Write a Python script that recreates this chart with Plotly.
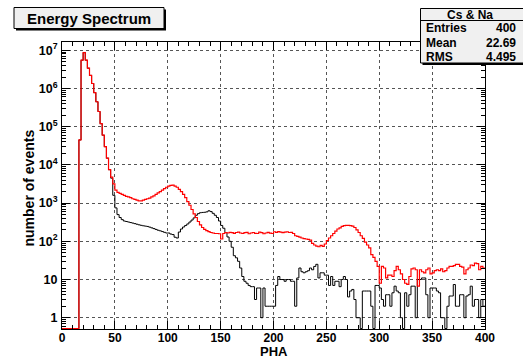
import numpy as np
import plotly.graph_objects as go

# ---------------- data (2-unit bins, 0..400) ----------------
bin_edges = list(range(0, 402, 2))

red_counts = [
    0, 0, 0, 0, 0, 0, 0, 0, 4.5e4, 5.5e6,
    8.7e6, 5.5e6, 3.4e6, 2.2e6, 1.35e6, 7.8e5, 4.5e5, 2.5e5, 1.2e5, 6e4,
    3e4, 1.5e4, 7.5e3, 4.8e3, 3.2e3, 2.2e3, 1.9e3, 1.8e3, 1.7e3, 1.6e3,
    1.5e3, 1.45e3, 1.4e3, 1.3e3, 1.25e3, 1.2e3, 1.15e3, 1.15e3, 1.2e3, 1.25e3,
    1.3e3, 1.35e3, 1.45e3, 1.55e3, 1.7e3, 1.85e3, 2.0e3, 2.2e3, 2.4e3, 2.6e3,
    2.8e3, 2.9e3, 2.95e3, 2.8e3, 2.6e3, 2.3e3, 2.0e3, 1.7e3, 1.4e3, 1.1e3,
    880, 680, 520, 420, 330, 270, 230, 205, 190, 180,
    170, 165, 160, 160, 158, 115, 160, 170, 165, 172,
    168, 162, 170, 175, 165, 160, 168, 172, 158, 165,
    170, 162, 160, 175, 168, 158, 165, 172, 163, 160,
    178, 172, 180, 175, 168, 175, 178, 170, 172, 160,
    140, 135, 128, 122, 118, 115, 112, 108, 88, 80,
    75, 72, 78, 74, 85, 105, 122, 140, 160, 185,
    210, 225, 245, 258, 262, 262, 258, 250, 230, 200,
    170, 140, 120, 95, 80, 67, 45, 38, 30, 22,
    8, 22, 20, 11, 13, 13, 12, 17, 22, 18,
    14, 10, 8, 7.5, 12, 19, 20, 18, 6.7, 18,
    16, 15, 18, 20, 14, 15, 17, 18, 17, 19,
    16, 17, 20, 22, 22, 23, 25, 25, 22, 21,
    14, 18, 20, 24, 23, 27, 26, 18, 22, 20,
]

black_counts = [
    0, 0, 0, 0, 0, 0, 0, 0, 4.5e4, 5.5e6,
    8.7e6, 5.5e6, 3.4e6, 2.2e6, 1.35e6, 7.8e5, 4.5e5, 2.5e5, 1.2e5, 6e4,
    3e4, 1.5e4, 7.5e3, 4.5e3, 1.6e3, 750, 500, 420, 370, 340,
    330, 320, 310, 300, 290, 280, 270, 262, 255, 250,
    245, 235, 225, 215, 205, 195, 188, 180, 172, 165,
    165, 155, 150, 128, 122, 175, 210, 237, 260, 285,
    320, 360, 410, 480, 530, 560, 570, 575, 590, 630,
    600, 540, 480, 420, 340, 260, 220, 170, 130, 100,
    70, 42, 37, 30, 20, 12, 9, 8, 7, 6.5,
    6.5, 3, 6, 6, 1, 6, 2, 2, 2, 2,
    2, 7, 12, 10, 10, 9, 10, 10, 9, 9,
    2, 11, 20, 16, 15, 16, 17, 20, 18, 22,
    25, 11, 15, 15, 13, 13, 7, 12, 7, 9,
    9, 6.5, 10, 12, 10, 3.5, 5, 5.5, 3, 1,
    1, 0, 5, 5, 5, 5, 2, 0, 7, 7,
    6, 3, 2, 4, 4, 2, 4.5, 6.7, 5, 4.5,
    1, 0, 4.5, 2, 4, 6.7, 6.7, 1, 10, 10,
    11, 11, 4, 1, 6, 6, 6, 5, 4.5, 1,
    1, 0, 2, 3.7, 3.7, 7.4, 2, 2, 4, 4,
    1, 3.7, 4, 6.7, 2, 3, 3, 1, 3, 2,
]

x_tick_vals = [0, 50, 100, 150, 200, 250, 300, 350, 400]
y_tick_vals = [1, 10, 1e2, 1e3, 1e4, 1e5, 1e6, 1e7]
y_tick_text = ["1", "10", "10<sup>2</sup>", "10<sup>3</sup>", "10<sup>4</sup>",
               "10<sup>5</sup>", "10<sup>6</sup>", "10<sup>7</sup>"]

hist_title = "Energy Spectrum"
stats_name = "Cs &amp; Na"
stats_rows = [("Entries", "400"), ("Mean", "22.69"), ("RMS", "4.495")]

# ---------------- layout geometry ----------------
W, H = 523, 358
ML, MR, MT, MB = 62, 38, 42, 29
PW, PH = W - ML - MR, H - MT - MB
LOG_MIN, LOG_MAX = -0.295, 7.217
floor_val = 10 ** (LOG_MIN + 0.012)   # empty bins drawn on the frame bottom


def px(xp):
    return (xp - ML) / PW


def py(yp):
    return (H - MB - yp) / PH


def step_y(counts):
    vals = [c if c > 0 else floor_val for c in counts]
    return vals + [vals[-1]]


FONT = "Liberation Sans"

fig = go.Figure()
fig.add_trace(go.Scatter(x=bin_edges, y=step_y(black_counts), mode="lines",
                         line=dict(color="black", width=1, shape="hv"),
                         hoverinfo="skip"))
fig.add_trace(go.Scatter(x=bin_edges, y=step_y(red_counts), mode="lines",
                         line=dict(color="#ff0000", width=1.2, shape="hv"),
                         hoverinfo="skip"))

axis_common = dict(
    showline=True, linecolor="black", linewidth=1, mirror="allticks",
    ticks="inside", ticklen=8, tickcolor="black", tickwidth=1,
    showgrid=True, gridcolor="#555555", griddash="dot", gridwidth=1,
    zeroline=False,
)

fig.update_layout(
    width=W, height=H,
    margin=dict(l=ML, r=MR, t=MT, b=MB, pad=0),
    paper_bgcolor="white", plot_bgcolor="white",
    showlegend=False,
    xaxis=dict(range=[0, 400], tickvals=x_tick_vals,
               minor=dict(ticks="inside", ticklen=4, dtick=10, tick0=0,
                          tickcolor="black", showgrid=False),
               ticklabelstandoff=-2,
               tickfont=dict(family=FONT, size=12, color="black", weight="bold"),
               **axis_common),
    yaxis=dict(type="log", range=[LOG_MIN, LOG_MAX],
               tickvals=y_tick_vals, ticktext=y_tick_text,
               minor=dict(ticks="inside", ticklen=4, dtick="D1",
                          tickcolor="black", showgrid=False),
               ticklabelstandoff=1,
               tickfont=dict(family=FONT, size=12.5, color="black", weight="bold"),
               **axis_common),
)

shapes = []
annots = []

# title box with shadow
tb = (14, 7.5, 164, 28.5)
shapes.append(dict(type="rect", xref="paper", yref="paper",
                   x0=px(tb[0] + 2), x1=px(tb[2] + 2), y0=py(tb[3] + 2), y1=py(tb[1] + 2),
                   fillcolor="black", line=dict(width=0), layer="above"))
shapes.append(dict(type="rect", xref="paper", yref="paper",
                   x0=px(tb[0]), x1=px(tb[2]), y0=py(tb[3]), y1=py(tb[1]),
                   fillcolor="#f0f0f0", line=dict(color="black", width=1), layer="above"))
annots.append(dict(xref="paper", yref="paper", x=px((tb[0] + tb[2]) / 2), y=py(18),
                   text=hist_title, showarrow=False, xanchor="center", yanchor="middle",
                   font=dict(family=FONT, size=15, color="black", weight="bold")))

# stats box with shadow
sb = (420.5, 8.5, 524, 63)
shapes.append(dict(type="rect", xref="paper", yref="paper",
                   x0=px(sb[0] + 2), x1=px(sb[2] + 2), y0=py(sb[3] + 2), y1=py(sb[1] + 2),
                   fillcolor="black", line=dict(width=0), layer="above"))
shapes.append(dict(type="rect", xref="paper", yref="paper",
                   x0=px(sb[0]), x1=px(sb[2]), y0=py(sb[3]), y1=py(sb[1]),
                   fillcolor="#f0f0f0", line=dict(color="black", width=1), layer="above"))
shapes.append(dict(type="line", xref="paper", yref="paper",
                   x0=px(sb[0]), x1=px(sb[2]), y0=py(20.5), y1=py(20.5),
                   line=dict(color="black", width=1), layer="above"))
annots.append(dict(xref="paper", yref="paper", x=px(470), y=py(14.5),
                   text=stats_name, showarrow=False, xanchor="center", yanchor="middle",
                   font=dict(family=FONT, size=12, color="black", weight="bold")))
row_y = [28, 43, 57]
for (lab, val), yy in zip(stats_rows, row_y):
    annots.append(dict(xref="paper", yref="paper", x=px(424), y=py(yy),
                       text=lab, showarrow=False, xanchor="left", yanchor="middle",
                       font=dict(family=FONT, size=12, color="black", weight="bold")))
    annots.append(dict(xref="paper", yref="paper", x=px(518), y=py(yy),
                       text=val, showarrow=False, xanchor="right", yanchor="middle",
                       font=dict(family=FONT, size=12, color="black", weight="bold")))

# axis titles
annots.append(dict(xref="paper", yref="paper", x=px(273.5), y=py(351.5),
                   text="PHA", showarrow=False, xanchor="center", yanchor="middle",
                   font=dict(family=FONT, size=13, color="black", weight="bold")))
annots.append(dict(xref="paper", yref="paper", x=px(28.5), y=py(188),
                   text="number of events", showarrow=False, textangle=-90,
                   xanchor="center", yanchor="middle",
                   font=dict(family=FONT, size=14, color="black", weight="bold")))

fig.update_layout(shapes=shapes, annotations=annots)
fig.write_html("out.html")
